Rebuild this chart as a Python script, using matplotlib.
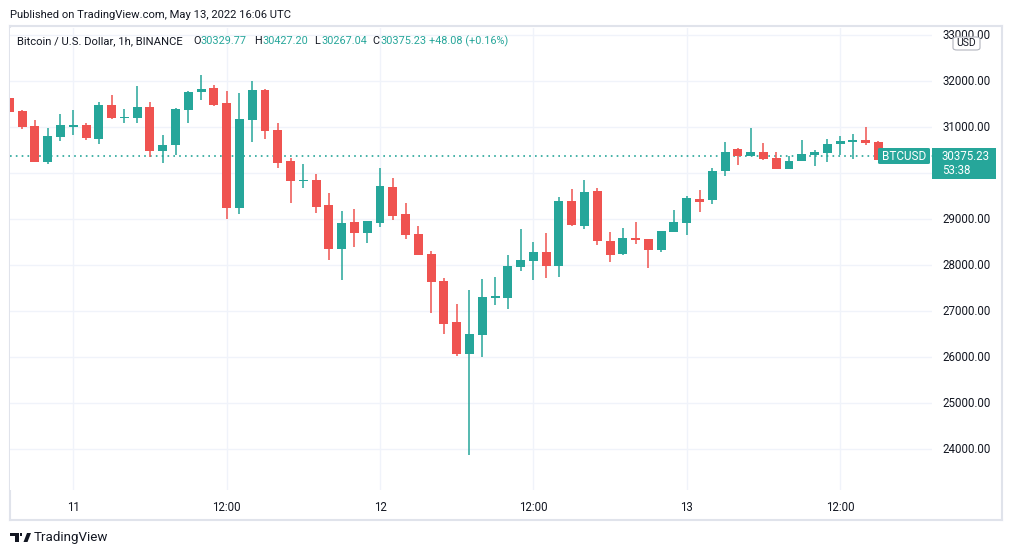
import matplotlib
matplotlib.use('Agg')
import matplotlib.pyplot as plt
from matplotlib.patches import Rectangle, FancyBboxPatch, Polygon
import numpy as np

plt.rcParams['font.family'] = ['Roboto', 'DejaVu Sans']

# Velas de 1h, BTC/USD (hora 0 = 11 de maio 00:00 UTC)
horas = list(range(-5, 65))
aberturas = [31630, 31348, 31022, 30246, 30790, 31010, 31043, 30746, 31478, 31203,
             31203, 31435, 30486, 30616, 31377, 31768, 31848, 31522, 29246, 31159,
             31804, 30935, 30261, 29833, 29848, 29304, 28355, 28935, 28703, 28920,
             29696, 29109, 28674, 28239, 27652, 26761, 26072, 26486, 27300, 27290,
             27970, 28094, 28283, 27986, 29391, 28848, 29609, 28522, 28246, 28590,
             28565, 28333, 28725, 28920, 29435, 29420, 30043, 30522, 30377, 30471,
             30341, 30094, 30268, 30399, 30435, 30638, 30674, 30717, 30674, 30329.77]
maximas = [31650, 31370, 31152, 30978, 31283, 31370, 31087, 31543, 31696, 31391,
           31891, 31543, 30826, 31413, 31783, 32130, 31913, 31783, 31739, 32000,
           31826, 31087, 30326, 30196, 29978, 29565, 29174, 29217, 28960, 30109,
           29891, 29348, 28848, 28304, 27717, 27152, 27457, 27696, 27739, 28217,
           28783, 28500, 28696, 29478, 29652, 29848, 29674, 28717, 28804, 28935,
           28570, 28745, 29196, 29500, 29630, 30109, 30688, 30543, 30978, 30652,
           30457, 30384, 30717, 30514, 30739, 30804, 30848, 31000, 30696, 30427.20]
minimas = [31300, 30964, 30240, 30203, 30703, 30833, 30725, 30638, 31181, 31094,
           31094, 30355, 30225, 30399, 31094, 31594, 31464, 29007, 29116, 30681,
           30746, 30116, 29355, 29681, 29138, 28116, 27681, 28399, 28486, 28833,
           28986, 28572, 28220, 26964, 26507, 26029, 23877, 26007, 27138, 27051,
           27877, 27681, 27725, 27746, 28860, 28790, 28442, 28072, 28225, 28464,
           27942, 28290, 28720, 28659, 29159, 29333, 29942, 30181, 30370, 30290,
           30090, 30090, 30260, 30159, 30239, 30399, 30312, 30609, 30290, 30267.04]
fechamentos = [31330, 31007, 30246, 30804, 31043, 31040, 30768, 31478, 31203, 31217,
               31435, 30486, 30609, 31391, 31761, 31826, 31486, 29246, 31174, 31804,
               30920, 30225, 29833, 29848, 29268, 28355, 28913, 28703, 28957, 29717,
               29072, 28659, 28225, 27638, 26725, 26072, 26500, 27304, 27326, 27978,
               28109, 28283, 27986, 29391, 28870, 29587, 28529, 28225, 28587, 28551,
               28333, 28739, 28935, 29457, 29377, 30043, 30471, 30377, 30471, 30304,
               30094, 30275, 30413, 30457, 30630, 30696, 30717, 30652, 30300, 30375.23]
# velas doji com cor definida manualmente
cor_doji = {0: 'up', 4: 'up', 18: 'up', 33: 'up', 44: 'down', 49: 'down'}

precos_eixo = [24000, 25000, 26000, 27000, 28000, 29000, 30000, 31000, 32000, 33000]
precos_rotulo = [24000, 25000, 26000, 27000, 28000, 29000, 31000, 32000, 33000]  # 30000 fica atras da etiqueta
horas_ticks = [0, 12, 24, 36, 48, 60]
rotulos_ticks = ['11', '12:00', '12', '12:00', '13', '12:00']
ultimo_preco = 30375.23

VERDE = '#26a69a'
VERMELHO = '#ef5350'
GRADE = '#f0f3fa'
TEXTO = '#131722'

W, H = 1012, 555
fig = plt.figure(figsize=(W / 100, H / 100), dpi=100)
fig.patch.set_facecolor('white')


def caixa(x0, y0, x1, y1):
    return [x0 / W, 1 - y1 / H, (x1 - x0) / W, (y1 - y0) / H]


# moldura do grafico
moldura = fig.add_axes(caixa(10, 26, 1002, 520))
moldura.set_xticks([])
moldura.set_yticks([])
moldura.patch.set_alpha(0)
for s in moldura.spines.values():
    s.set_color('#e0e3eb')
    s.set_linewidth(1.5)

ax = fig.add_axes(caixa(10, 28, 932, 490))
ax.set_xlim(-4.95, 67.19)
ax.set_ylim(23115, 33159)
for s in ax.spines.values():
    s.set_visible(False)
ax.set_yticks(precos_eixo)
ax.set_yticklabels([])
ax.tick_params(axis='y', length=0)
ax.set_xticks(horas_ticks)
ax.set_xticklabels(rotulos_ticks, fontsize=8.3, color=TEXTO)
ax.tick_params(axis='x', length=0, pad=8)
ax.grid(True, color=GRADE, linewidth=1)
ax.set_axisbelow(True)

largura = 0.70
for i, h in enumerate(horas):
    o, hi, lo, c = aberturas[i], maximas[i], minimas[i], fechamentos[i]
    if h in cor_doji:
        sobe = cor_doji[h] == 'up'
    else:
        sobe = c >= o
    cor = VERDE if sobe else VERMELHO
    ax.vlines(h, lo, hi, color=cor, linewidth=1.1, zorder=2)
    altura = max(abs(c - o), 30)
    base = min(o, c) if abs(c - o) >= 30 else (o + c) / 2 - 15
    ax.bar(h, altura, bottom=base, width=largura, color=cor, zorder=3, linewidth=0)

ax.axhline(ultimo_preco, color=VERDE, linestyle=(0, (1, 2.5)), linewidth=1.2, zorder=1)

# eixo de precos
pax = fig.add_axes(caixa(932, 28, 1002, 490), sharey=ax)
pax.set_xlim(0, 1)
pax.axis('off')
for p in precos_rotulo:
    pax.text(0.15, p, f'{p:.2f}', fontsize=8.3, color=TEXTO, va='center', ha='left',
             clip_on=True)

# etiquetas do ultimo preco
fig.patches.append(FancyBboxPatch((878 / W, 1 - 164 / H), 52 / W, 16 / H,
                                  boxstyle='round,pad=0,rounding_size=0.002',
                                  transform=fig.transFigure, facecolor=VERDE,
                                  edgecolor='none', zorder=5))
fig.text(904 / W, 1 - 156.5 / H, 'BTCUSD', color='white', fontsize=8.5,
         ha='center', va='center', zorder=6)
fig.patches.append(Rectangle((932 / W, 1 - 179 / H), 64 / W, 31 / H,
                             transform=fig.transFigure, facecolor=VERDE,
                             edgecolor='none', zorder=5))
fig.text(942 / W, 1 - 156.5 / H, f'{ultimo_preco:.2f}', color='white', fontsize=8.3,
         ha='left', va='center', zorder=6)
fig.text(942 / W, 1 - 171 / H, '53:38', color='white', fontsize=8.3,
         ha='left', va='center', zorder=6)

# caixa USD
fig.patches.append(FancyBboxPatch((953 / W, 1 - 50 / H), 27 / W, 13 / H,
                                  boxstyle='round,pad=0,rounding_size=0.004',
                                  transform=fig.transFigure, facecolor='white',
                                  edgecolor='#b2b5be', linewidth=0.8, zorder=5))
fig.text(966.5 / W, 1 - 43.5 / H, 'USD', color=TEXTO, fontsize=7.5,
         ha='center', va='center', zorder=6)

# cabecalho
fig.text(10 / W, 1 - 15 / H, 'Published on TradingView.com, May 13, 2022 16:06 UTC',
         fontsize=8.1, color=TEXTO, va='center')
fig.text(17 / W, 1 - 41 / H, 'Bitcoin / U.S. Dollar, 1h, BINANCE', fontsize=8.1,
         color=TEXTO, va='center')
partes = [(193, 'O', TEXTO), (200, '30329.77', VERDE), (254, 'H', TEXTO),
          (262, '30427.20', VERDE), (314, 'L', TEXTO), (321, '30267.04', VERDE),
          (372, 'C', TEXTO), (380, '30375.23', VERDE), (429, '+48.08 (+0.16%)', VERDE)]
for x, t, c in partes:
    fig.text(x / W, 1 - 41 / H, t, fontsize=7.8, color=c, va='center')

# logotipo TradingView
fig.patches.append(Polygon([(10 / W, 1 - 533 / H), (19 / W, 1 - 533 / H),
                            (19 / W, 1 - 542 / H), (15.5 / W, 1 - 542 / H),
                            (15.5 / W, 1 - 536 / H), (10 / W, 1 - 536 / H)],
                           closed=True, transform=fig.transFigure,
                           facecolor=TEXTO, edgecolor='none'))
fig.patches.append(Rectangle((20 / W, 1 - 536 / H), 2.5 / W, 3 / H,
                             transform=fig.transFigure, facecolor=TEXTO, edgecolor='none'))
fig.patches.append(Polygon([(23.5 / W, 1 - 542 / H), (27 / W, 1 - 533 / H),
                            (31 / W, 1 - 533 / H), (27.5 / W, 1 - 542 / H)],
                           closed=True, transform=fig.transFigure,
                           facecolor=TEXTO, edgecolor='none'))
fig.text(34 / W, 1 - 537.5 / H, 'TradingView', fontsize=9.6, color=TEXTO, va='center')

fig.savefig('out.png', dpi=100, facecolor='white')
